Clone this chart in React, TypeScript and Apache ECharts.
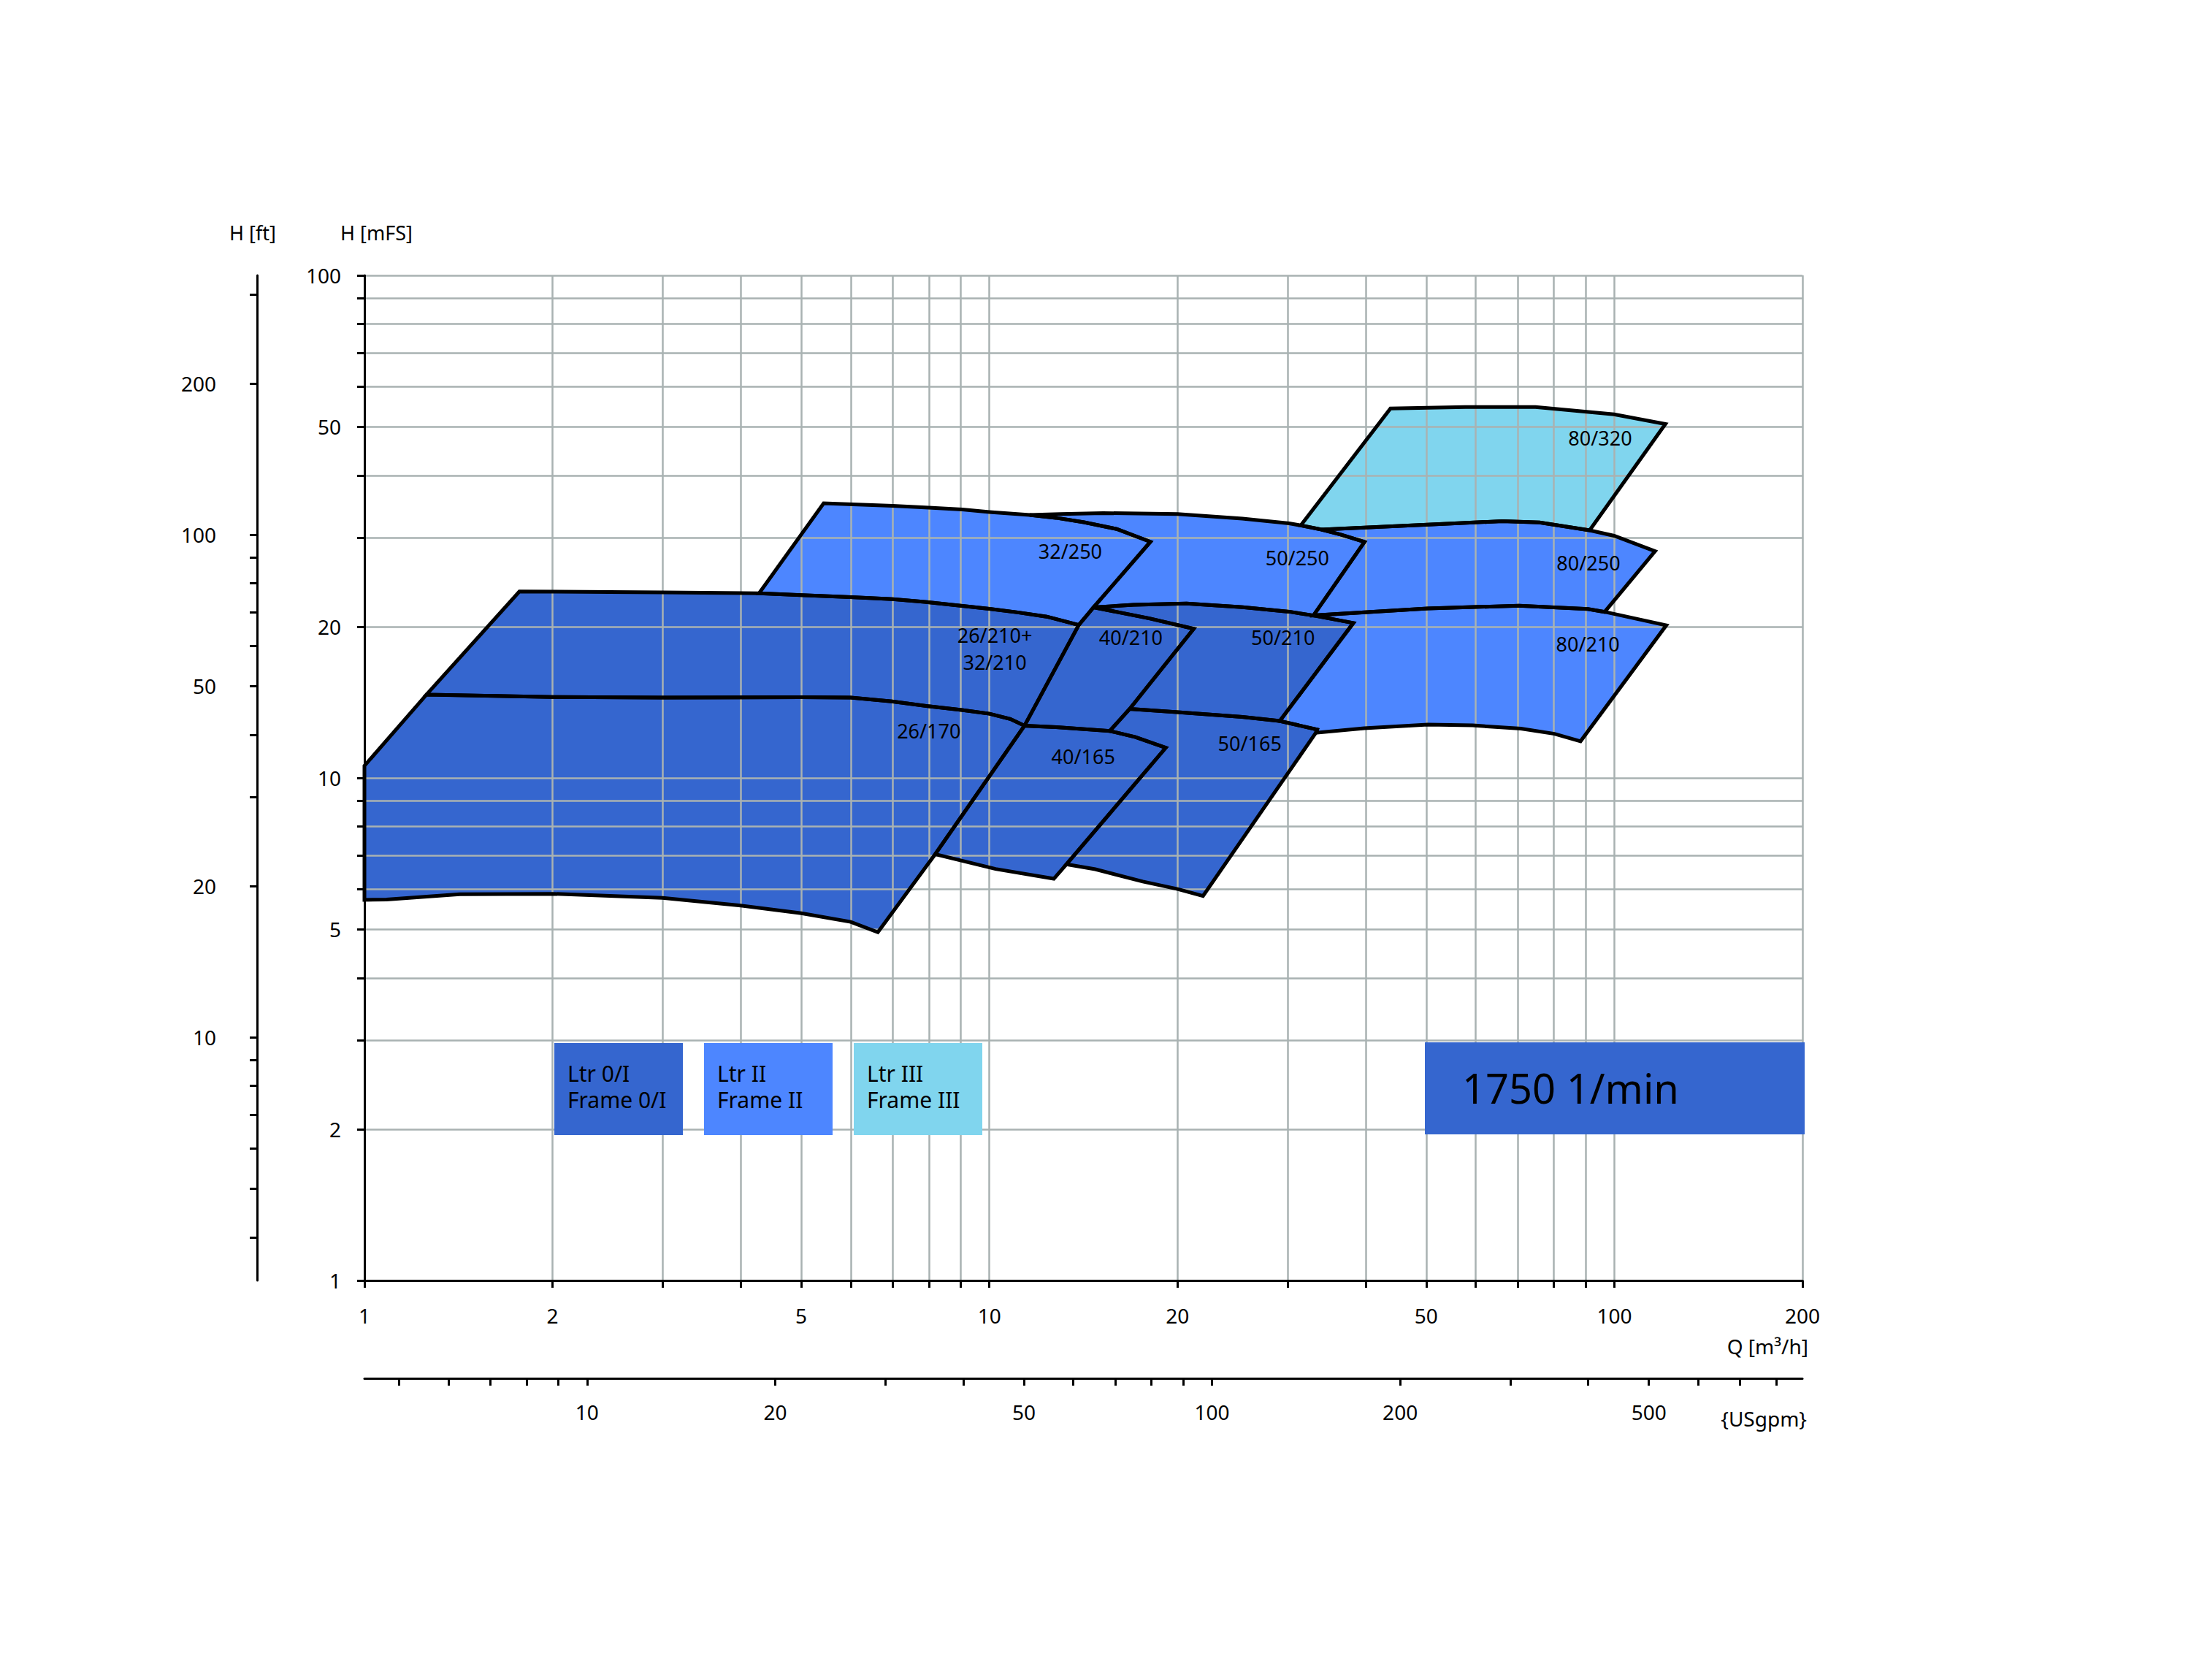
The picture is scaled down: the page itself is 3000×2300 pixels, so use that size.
import React, { useEffect, useRef } from 'react';
import * as echarts from 'echarts';

type Pt = [number, number];

const FONT = '"Noto Sans", "DejaVu Sans", sans-serif';
const DARK = '#3566CF';
const MEDIUM = '#4D86FF';
const LIGHT = '#80D5EE';
const GRID = '#A9B2B2';

// ---- axis ticks / labels ----
const qTicks = [1, 2, 3, 4, 5, 6, 7, 8, 9, 10, 20, 30, 40, 50, 60, 70, 80, 90, 100, 200];
const qLabels = [1, 2, 5, 10, 20, 50, 100, 200];
const hTicks = [1, 2, 3, 4, 5, 6, 7, 8, 9, 10, 20, 30, 40, 50, 60, 70, 80, 90, 100];
const hLabels = [1, 2, 5, 10, 20, 50, 100];
const ftTicks = [4, 5, 6, 7, 8, 9, 10, 20, 30, 40, 50, 60, 70, 80, 90, 100, 200, 300];
const ftLabels = [10, 20, 50, 100, 200];
const gpmTicks = [5, 6, 7, 8, 9, 10, 20, 30, 40, 50, 60, 70, 80, 90, 100, 200, 300, 400, 500, 600, 700, 800];
const gpmLabels = [10, 20, 50, 100, 200, 500];
const M_TO_FT = 3.28084;
const M3H_TO_GPM = 4.402868;
const Q_RANGE: Pt = [1, 200];
const H_RANGE: Pt = [1, 100];

// ---- edges of the pump ranges: [Q m3/h, H m] ----
// 26/170, 26/210
const left26a: Pt[] = [[1.0, 10.57], [1.257, 14.65]];
const left26b: Pt[] = [[1.257, 14.65], [1.77, 23.5]];
const top26_210a: Pt[] = [[1.77, 23.5], [3.0, 23.4], [4.28, 23.3]];
const top26_210b: Pt[] = [[4.28, 23.3], [5.0, 23.1], [6.0, 22.9], [7.0, 22.68], [8.03, 22.35], [9.05, 22.0], [10.0, 21.7], [11.1, 21.35], [12.35, 20.94], [13.9, 20.15]];
const right26_210: Pt[] = [[13.9, 20.15], [11.38, 12.7]];
const top26_170: Pt[] = [[1.257, 14.65], [2.0, 14.49], [3.0, 14.45], [5.0, 14.47], [6.0, 14.45], [6.98, 14.2], [8.02, 13.88], [9.03, 13.65], [10.0, 13.42], [10.8, 13.1], [11.38, 12.7]];
const right26_170a: Pt[] = [[11.38, 12.7], [8.19, 7.05]];
const right26_170b: Pt[] = [[8.19, 7.05], [6.63, 4.93]];
const bottom26_170: Pt[] = [[6.63, 4.93], [6.0, 5.17], [5.0, 5.38], [4.0, 5.57], [3.0, 5.77], [2.0, 5.88], [1.42, 5.87], [1.085, 5.73], [1.0, 5.72]];
const axis26_170: Pt[] = [[1.0, 5.72], [1.0, 10.57]];
// 32/250
const left32: Pt[] = [[4.28, 23.3], [5.43, 35.2]];
const top32a: Pt[] = [[5.43, 35.2], [7.0, 34.8], [8.0, 34.5], [9.05, 34.2], [10.0, 33.8], [11.6, 33.35]];
const top32b: Pt[] = [[11.6, 33.35], [12.78, 32.93], [14.17, 32.27], [15.98, 31.28], [18.1, 29.5]];
const right32a: Pt[] = [[18.1, 29.5], [14.68, 21.85]];
const right32b: Pt[] = [[14.68, 21.85], [13.9, 20.15]];
// 50/250, 50/210
const top50_250a: Pt[] = [[11.6, 33.35], [13.0, 33.5], [15.2, 33.65], [20.0, 33.5], [25.4, 32.82], [30.17, 32.1], [31.5, 31.8]];
const top50_250b: Pt[] = [[31.5, 31.8], [34.0, 31.2]];
const top50_250c: Pt[] = [[34.0, 31.2], [36.5, 30.5], [39.83, 29.48]];
const right50_250: Pt[] = [[39.83, 29.48], [33.0, 21.05]];
const top50_210a: Pt[] = [[14.68, 21.85], [17.0, 22.1], [20.68, 22.23], [25.42, 21.86], [30.17, 21.42], [33.0, 21.05]];
const top50_210b: Pt[] = [[33.0, 21.05], [38.23, 20.34]];
const right50_210: Pt[] = [[38.23, 20.34], [29.15, 12.98]];
// 40/210, 40/165, 50/165
const top40_210: Pt[] = [[14.68, 21.85], [18.03, 20.77], [21.23, 19.8]];
const right40_210a: Pt[] = [[21.23, 19.8], [16.77, 13.72]];
const right40_210b: Pt[] = [[16.77, 13.72], [15.58, 12.4]];
const top40_165a: Pt[] = [[11.38, 12.7], [12.79, 12.62], [15.58, 12.4]];
const top40_165b: Pt[] = [[15.58, 12.4], [17.13, 12.06], [19.15, 11.48]];
const right40_165a: Pt[] = [[19.15, 11.48], [13.28, 6.73]];
const right40_165b: Pt[] = [[13.28, 6.73], [12.68, 6.3]];
const bottom40_165: Pt[] = [[12.68, 6.3], [10.23, 6.59], [8.19, 7.05]];
const top50_165a: Pt[] = [[16.77, 13.72], [20.0, 13.52], [25.4, 13.22], [29.15, 12.98]];
const top50_165b: Pt[] = [[29.15, 12.98], [33.45, 12.48]];
const right50_165a: Pt[] = [[33.45, 12.48], [33.3, 12.3]];
const right50_165b: Pt[] = [[33.3, 12.3], [21.97, 5.82]];
const bottom50_165: Pt[] = [[21.97, 5.82], [20.0, 6.01], [17.6, 6.22], [14.77, 6.58], [13.28, 6.73]];
// 80/210, 80/250, 80/320
const top80_210a: Pt[] = [[33.0, 21.05], [50.28, 21.73], [70.4, 22.02], [90.7, 21.68], [96.5, 21.4]];
const top80_210b: Pt[] = [[96.5, 21.4], [121.1, 20.12]];
const right80_210: Pt[] = [[121.1, 20.12], [88.3, 11.83]];
const bottom80_210: Pt[] = [[88.3, 11.83], [80.2, 12.24], [70.9, 12.53], [59.3, 12.72], [50.28, 12.77], [39.8, 12.56], [33.3, 12.3]];
const top80_250a: Pt[] = [[34.0, 31.2], [50.28, 31.92], [66.17, 32.42], [75.9, 32.24], [91.3, 31.1]];
const top80_250b: Pt[] = [[91.3, 31.1], [99.9, 30.33], [116.2, 28.26]];
const right80_250: Pt[] = [[116.2, 28.26], [96.5, 21.4]];
const left80_320: Pt[] = [[31.5, 31.8], [43.83, 54.33]];
const top80_320: Pt[] = [[43.83, 54.33], [57.7, 54.7], [74.8, 54.7], [99.9, 52.9], [120.7, 50.6]];
const right80_320: Pt[] = [[120.7, 50.6], [91.3, 31.1]];

// ---- labels of the ranges ----
const labelNames = ['32/250', '50/250', '80/320', '80/250', '26/210+\n32/210', '40/210', '50/210', '80/210', '26/170', '40/165', '50/165'];
const labelPos: Pt[] = [[13.47, 28.3], [31.1, 27.45], [94.9, 47.5], [90.9, 26.77], [10.2, 18.06], [16.84, 19.04], [29.5, 19.04], [90.7, 18.5], [8.0, 12.4], [14.13, 11.02], [26.1, 11.72]];

// ---- legend boxes ----
const frameTexts = ['Ltr 0/I\nFrame 0/I', 'Ltr II\nFrame II', 'Ltr III\nFrame III'];
const frameColors = [DARK, MEDIUM, LIGHT];
const speedText = '1750 1/min';

function rev(e: Pt[]): Pt[] {
  return [...e].reverse();
}
function chain(...parts: Pt[][]): Pt[] {
  const out: Pt[] = [];
  for (const p of parts) {
    for (const v of p) {
      const last = out[out.length - 1];
      if (last && last[0] === v[0] && last[1] === v[1]) continue;
      out.push(v);
    }
  }
  const f = out[0];
  const l = out[out.length - 1];
  if (out.length > 1 && f[0] === l[0] && f[1] === l[1]) out.pop();
  return out;
}

const regions: { name: string; color: string; pts: Pt[] }[] = [
  { name: '80/320', color: LIGHT, pts: chain(left80_320, top80_320, right80_320, rev(top80_250a), rev(top50_250b)) },
  { name: '80/250', color: MEDIUM, pts: chain(top80_250a, top80_250b, right80_250, rev(top80_210a), rev(right50_250), rev(top50_250c)) },
  { name: '80/210', color: MEDIUM, pts: chain(top80_210a, top80_210b, right80_210, bottom80_210, rev(right50_165a), rev(top50_165b), rev(right50_210), rev(top50_210b)) },
  { name: '50/250', color: MEDIUM, pts: chain(top50_250a, top50_250b, top50_250c, right50_250, rev(top50_210a), rev(right32a), rev(top32b)) },
  { name: '32/250', color: MEDIUM, pts: chain(left32, top32a, top32b, right32a, right32b, rev(top26_210b)) },
  { name: '50/210', color: DARK, pts: chain(top50_210a, top50_210b, right50_210, rev(top50_165a), rev(right40_210a), rev(top40_210)) },
  { name: '40/210', color: DARK, pts: chain(top40_210, right40_210a, right40_210b, rev(top40_165a), rev(right26_210), rev(right32b)) },
  { name: '50/165', color: DARK, pts: chain(top50_165a, top50_165b, right50_165a, right50_165b, bottom50_165, rev(right40_165a), rev(top40_165b), rev(right40_210b)) },
  { name: '40/165', color: DARK, pts: chain(top40_165a, top40_165b, right40_165a, right40_165b, bottom40_165, rev(right26_170a)) },
  { name: '26/210', color: DARK, pts: chain(left26b, top26_210a, top26_210b, right26_210, rev(top26_170)) },
  { name: '26/170', color: DARK, pts: chain(top26_170, right26_170a, right26_170b, bottom26_170, axis26_170, left26a) },
];

const fmt = (v: number) => String(Math.round(v * 1000) / 1000);

function polySeries(r: { name: string; color: string; pts: Pt[] }, kind: 'fill' | 'line') {
  return {
    type: 'custom',
    name: r.name + (kind === 'fill' ? '' : ' outline'),
    z: kind === 'fill' ? 1 : 3,
    silent: true,
    xAxisIndex: 0,
    yAxisIndex: 0,
    data: r.pts,
    encode: { x: 0, y: 1 },
    renderItem: (params: any, api: any) => {
      if (params.dataIndex !== 0) return null;
      const points = r.pts.map((p) => api.coord(p));
      return {
        type: 'polygon',
        shape: { points },
        style:
          kind === 'fill'
            ? { fill: r.color, stroke: r.color, lineWidth: 1 }
            : { fill: 'none', stroke: '#000', lineWidth: 5, lineJoin: 'miter' },
      };
    },
  };
}

function axisCommon(ticks: number[], labels: number[], margin: number) {
  return {
    axisLine: { show: true, onZero: false, lineStyle: { color: '#000', width: 3 } },
    axisTick: { show: true, customValues: ticks, length: 10, lineStyle: { color: '#000', width: 3 } },
    axisLabel: { show: true, customValues: labels, margin, color: '#000', fontSize: 28, fontFamily: FONT, formatter: fmt },
    minorTick: { show: false },
    minorSplitLine: { show: false },
  };
}

const GL = 499;
const GT = 377;
const GW = 1969;
const GH = 1376;

function buildOption() {
  const graphics: any[] = [];
  const boxX = [759, 964, 1169];
  frameTexts.forEach((t, i) => {
    graphics.push({ type: 'rect', z: 100, silent: true, shape: { x: boxX[i], y: 1428, width: 176, height: 126 }, style: { fill: frameColors[i] } });
    graphics.push({
      type: 'text', z: 101, silent: true, x: boxX[i] + 18, y: 1487,
      style: { text: t, fill: '#000', fontSize: 30, lineHeight: 36, fontFamily: FONT, align: 'left', textAlign: 'left', verticalAlign: 'middle', textVerticalAlign: 'middle' },
    });
  });
  graphics.push({ type: 'rect', z: 100, silent: true, shape: { x: 1951, y: 1427, width: 520, height: 126 }, style: { fill: DARK } });
  graphics.push({
    type: 'text', z: 101, silent: true, x: 2002, y: 1489,
    style: { text: speedText, fill: '#000', fontSize: 56, fontFamily: FONT, align: 'left', textAlign: 'left', verticalAlign: 'middle', textVerticalAlign: 'middle' },
  });
  const names: [string, number, number, string][] = [
    ['H [ft]', 314, 318, 'left'],
    ['H [mFS]', 466, 318, 'left'],
    ['Q [m³/h]', 2476, 1843, 'right'],
    ['{USgpm}', 2474, 1942, 'right'],
  ];
  names.forEach(([t, x, y, a]) => {
    graphics.push({
      type: 'text', z: 101, silent: true, x, y,
      style: { text: t, fill: '#000', fontSize: a === 'left' ? 27 : 28, fontFamily: FONT, align: a, textAlign: a, verticalAlign: 'middle', textVerticalAlign: 'middle' },
    });
  });

  const series: any[] = [];
  regions.forEach((r) => series.push(polySeries(r, 'fill')));
  regions.forEach((r) => series.push(polySeries(r, 'line')));
  series.push({
    type: 'custom',
    name: 'labels',
    z: 4,
    silent: true,
    xAxisIndex: 0,
    yAxisIndex: 0,
    data: labelPos,
    encode: { x: 0, y: 1 },
    renderItem: (params: any, api: any) => {
      const c = api.coord([api.value(0), api.value(1)]);
      return {
        type: 'text',
        x: c[0],
        y: c[1],
        style: {
          text: labelNames[params.dataIndex], fill: '#000', fontSize: 27, fontFamily: FONT,
          align: 'center', textAlign: 'center', verticalAlign: 'middle', textVerticalAlign: 'middle', lineHeight: 37,
        },
      };
    },
  });

  return {
    animation: false,
    backgroundColor: '#ffffff',
    textStyle: { fontFamily: FONT },
    grid: { left: GL, top: GT, width: GW, height: GH, containLabel: false, outerBoundsMode: 'none' },
    xAxis: [
      {
        type: 'log', logBase: 10, min: Q_RANGE[0], max: Q_RANGE[1], position: 'bottom', z: 2,
        ...axisCommon(qTicks, qLabels, 34),
        splitLine: { show: true, lineStyle: { color: GRID, width: 2.5 } },
      },
      {
        type: 'log', logBase: 10, min: Q_RANGE[0] * M3H_TO_GPM, max: Q_RANGE[1] * M3H_TO_GPM, position: 'bottom', offset: 134, z: 2,
        ...axisCommon(gpmTicks, gpmLabels, 32),
        splitLine: { show: false },
      },
    ],
    yAxis: [
      {
        type: 'log', logBase: 10, min: H_RANGE[0], max: H_RANGE[1], position: 'left', z: 2,
        ...axisCommon(hTicks, hLabels, 32),
        splitLine: { show: true, lineStyle: { color: GRID, width: 2.5 } },
      },
      {
        type: 'log', logBase: 10, min: H_RANGE[0] * M_TO_FT, max: H_RANGE[1] * M_TO_FT, position: 'left', offset: 147, z: 2,
        ...axisCommon(ftTicks, ftLabels, 56),
        splitLine: { show: false },
      },
    ],
    graphic: { elements: graphics },
    series,
  };
}

export default function App() {
  const ref = useRef<HTMLDivElement>(null);
  useEffect(() => {
    if (!ref.current) return;
    const chart = echarts.init(ref.current, null, { renderer: 'svg' });
    chart.setOption(buildOption() as any);
    return () => chart.dispose();
  }, []);
  return <div ref={ref} style={{ position: 'absolute', left: 0, top: 0, width: 3000, height: 2300 }} />;
}
